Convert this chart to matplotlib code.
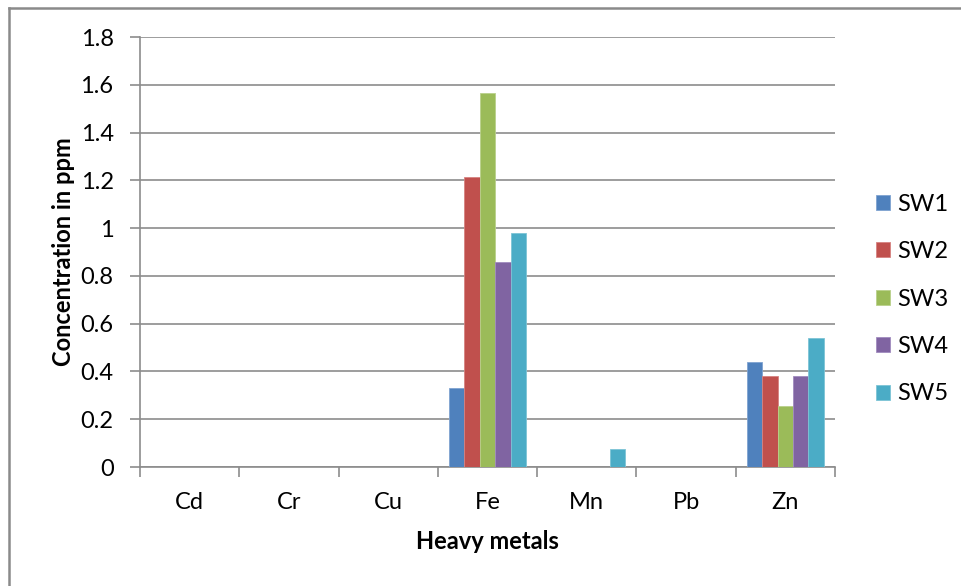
import numpy as np
import matplotlib.pyplot as plt
from matplotlib.lines import Line2D
from matplotlib.patches import Patch

plt.rcParams['font.family'] = ['Lato', 'DejaVu Sans']

metals = ["Cd", "Cr", "Cu", "Fe", "Mn", "Pb", "Zn"]
sites = ["SW1", "SW2", "SW3", "SW4", "SW5"]

sw1 = [0, 0, 0, 0.33, 0, 0, 0.44]
sw2 = [0, 0, 0, 1.215, 0, 0, 0.38]
sw3 = [0, 0, 0, 1.567, 0, 0, 0.255]
sw4 = [0, 0, 0, 0.857, 0, 0, 0.383]
sw5 = [0, 0, 0, 0.98, 0.075, 0, 0.538]

colors = ["#4F81BD", "#C0504D", "#9BBB59", "#8064A2", "#4BACC6"]
edges = ["#7FA3D1", "#D68280", "#B9D18B", "#A18BBF", "#7DC4D6"]
grid_gray = "#8C8C8C"
fs = 17

fig = plt.figure(figsize=(9.61, 5.86), dpi=100)
ax = fig.add_axes([140 / 961, 1 - 467 / 586, 695 / 961, 430 / 586])

x = np.arange(len(metals))
w = 0.155
for i, (vals, c, ec) in enumerate(zip([sw1, sw2, sw3, sw4, sw5], colors, edges)):
    ax.bar(x + (i - 2) * w, vals, width=w, color=c, edgecolor=ec,
           linewidth=0.6, zorder=3, label=sites[i])

ax.set_xlim(-0.5, len(metals) - 0.5)
ax.set_ylim(0, 1.8)
ax.set_yticks(np.arange(0, 1.81, 0.2))
ax.set_yticklabels(["0", "0.2", "0.4", "0.6", "0.8", "1", "1.2", "1.4", "1.6", "1.8"])
ax.yaxis.grid(True, color=grid_gray, linewidth=1.2, zorder=0)
ax.set_axisbelow(True)

# category boundaries as major ticks, names on minor ticks
ax.set_xticks(np.arange(-0.5, len(metals), 1.0))
ax.set_xticklabels([])
ax.set_xticks(x, minor=True)
ax.set_xticklabels(metals, minor=True)
ax.tick_params(axis='x', which='major', length=7, width=1.2, color=grid_gray, direction='out')
ax.tick_params(axis='x', which='minor', length=0, pad=18, labelsize=fs)
ax.tick_params(axis='y', length=7, width=1.2, color=grid_gray, pad=12, labelsize=fs)

for side in ["top", "right"]:
    ax.spines[side].set_visible(False)
for side in ["left", "bottom"]:
    ax.spines[side].set_color(grid_gray)
    ax.spines[side].set_linewidth(1.2)

ax.set_xlabel("Heavy metals", fontsize=fs, fontweight='bold', labelpad=12)
ax.set_ylabel("Concentration in ppm", fontsize=fs, fontweight='bold', labelpad=4)

handles = [Patch(facecolor=c, edgecolor=ec, linewidth=0.6) for c, ec in zip(colors, edges)]
fig.legend(handles, sites, loc='center left', bbox_to_anchor=(864 / 961, 1 - 299 / 586),
           frameon=False, fontsize=fs, handlelength=0.6, handleheight=0.6,
           handletextpad=0.3, labelspacing=1.12, borderpad=0)

# outer chart frame
fig.add_artist(Line2D([8.5 / 961, 1], [1 - 7.5 / 586] * 2, transform=fig.transFigure,
                      color="#8A8A8A", linewidth=1.8))
fig.add_artist(Line2D([8.5 / 961] * 2, [0, 1 - 7.5 / 586], transform=fig.transFigure,
                      color="#8A8A8A", linewidth=1.8))

fig.savefig("out.png", dpi=100)
